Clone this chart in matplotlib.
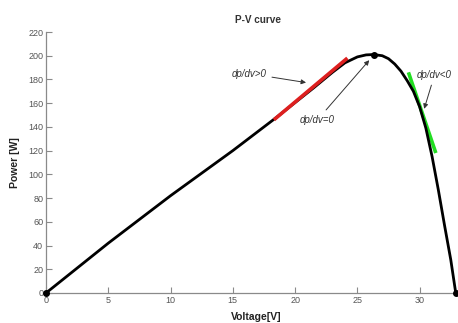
import matplotlib
matplotlib.use("Agg")
import matplotlib.pyplot as plt

# P-V curve
voltage = [0, 2.5, 5, 7.5, 10, 12.5, 15, 17, 18.5, 20, 21.5, 23, 24, 25, 25.7,
           26.3, 27, 27.5, 28, 28.5, 29, 29.5, 30, 30.5, 31, 31.5, 32, 32.5, 32.9]
power = [0, 21, 42, 62, 82, 101, 120, 136, 148, 160.5, 173, 186, 194, 199, 200.7,
         201, 200, 197.5, 193, 187, 179, 170, 157, 139, 115, 87, 57, 28, 0]

# marked points
mark_v = [0, 26.3, 32.9]
mark_p = [0, 201, 0]

# slope segments
red_v = [18.3, 24.2]
red_p = [146, 198]
green_v = [29.1, 31.3]
green_p = [186, 118]

xticks = [0, 5, 10, 15, 20, 25, 30]
yticks = [0, 20, 40, 60, 80, 100, 120, 140, 160, 180, 200, 220]

plt.rcParams['font.family'] = ['Liberation Sans', 'DejaVu Sans']

fig = plt.figure(figsize=(4.58, 3.23), dpi=100)
ax = fig.add_axes([46/458, 30/323, 411/458, 261/323])

ax.plot(voltage, power, color='black', lw=2.0, zorder=3, solid_capstyle='round')
ax.plot(red_v, red_p, color='#dd1f1f', lw=2.6, zorder=4, solid_capstyle='butt')
ax.plot(green_v, green_p, color='#22dd22', lw=2.6, zorder=2, solid_capstyle='butt')
ax.plot(mark_v, mark_p, 'o', color='black', ms=4, zorder=5, clip_on=False)

ax.set_xlim(0, 33)
ax.set_ylim(0, 220)
ax.set_xticks(xticks)
ax.set_yticks(yticks)

for s in ['top', 'right']:
    ax.spines[s].set_visible(False)
for s in ['left', 'bottom']:
    ax.spines[s].set_color('#8a8a8a')
    ax.spines[s].set_linewidth(0.9)
ax.tick_params(direction='in', length=4, width=0.8, color='#8a8a8a',
               labelsize=6.5, labelcolor='#555555', pad=2)

fig.text(258/458, 1 - 20/323, 'P-V curve', fontsize=7.2, fontweight='bold',
         color='#333333', ha='center', va='center')
ax.set_xlabel('Voltage[V]', fontsize=7.5, fontweight='bold', color='#222222')
ax.xaxis.set_label_coords((256 - 46) / 411, -19 / 261)
ax.set_ylabel('Power [W]', fontsize=7.5, fontweight='bold', color='#222222')
ax.yaxis.set_label_coords(-(46 - 20) / 411, (293 - 163) / 261)

ann_kw = dict(fontsize=7, style='italic', color='#333333',
              arrowprops=dict(arrowstyle='-|>', color='#333333', lw=0.7,
                              mutation_scale=7))
ax.annotate('dp/dv>0', xy=(21.1, 177), xytext=(14.9, 185), ha='left', va='center', **ann_kw)
ax.annotate('dp/dv=0', xy=(26.1, 198), xytext=(21.8, 146), ha='center', va='center', **ann_kw)
ax.annotate('dp/dv<0', xy=(30.3, 153), xytext=(31.2, 184), ha='center', va='center', **ann_kw)

fig.savefig('out.png', dpi=100)
